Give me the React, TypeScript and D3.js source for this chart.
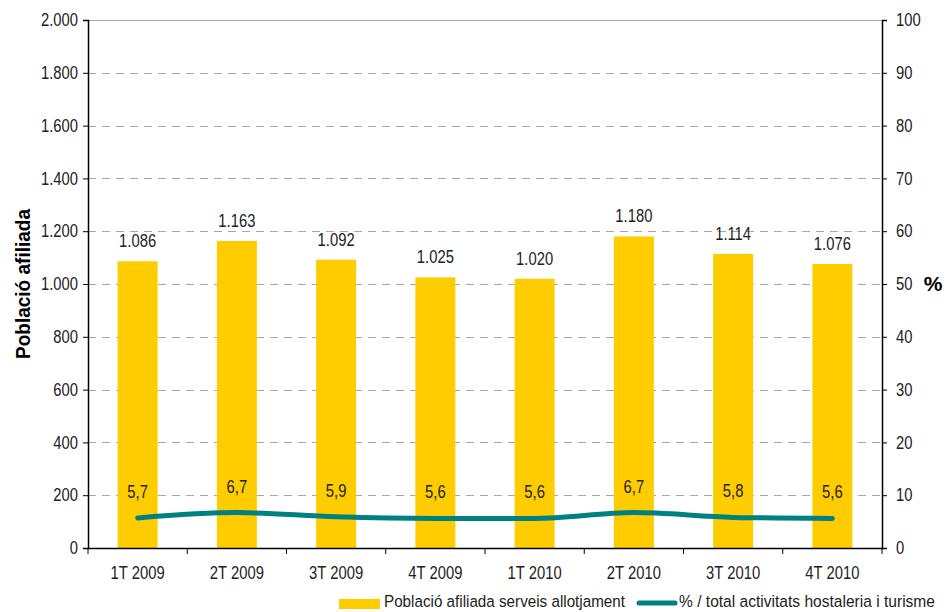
import * as d3 from "d3";
import { useEffect, useRef } from "react";

const categories = ["1T 2009", "2T 2009", "3T 2009", "4T 2009", "1T 2010", "2T 2010", "3T 2010", "4T 2010"];
const afiliats = [1086, 1163, 1092, 1025, 1020, 1180, 1114, 1076];
const percent = [5.7, 6.7, 5.9, 5.6, 5.6, 6.7, 5.8, 5.6];
const leftTicks = [0, 200, 400, 600, 800, 1000, 1200, 1400, 1600, 1800, 2000];
const rightTicks = [0, 10, 20, 30, 40, 50, 60, 70, 80, 90, 100];
const legendLabels = ["Població afiliada serveis allotjament", "% / total activitats hostaleria i turisme"];

const FONT = "'Liberation Sans Narrow', 'Arial Narrow', 'Liberation Sans', sans-serif";
const YELLOW = "#ffcc00";
const TEAL = "#008080";
const FS = 17.5;

export default function App() {
  const ref = useRef<SVGSVGElement | null>(null);

  useEffect(() => {
    const width = 949;
    const height = 612;
    const margin = { top: 20, right: 67, bottom: 64, left: 88 };

    const svg = d3.select(ref.current);
    svg.selectAll("*").remove();
    svg.attr("width", width).attr("height", height).style("font-family", FONT);

    const x = d3
      .scaleBand()
      .domain(categories)
      .range([margin.left, width - margin.right]);

    const y = d3
      .scaleLinear()
      .domain([0, 2000])
      .range([height - margin.bottom, margin.top]);

    const y2 = d3
      .scaleLinear()
      .domain([0, 100])
      .range([height - margin.bottom, margin.top]);

    const fmt = (d: number) => d3.format(",")(d).replace(",", ".");

    // gridlines
    svg
      .append("g")
      .selectAll("line")
      .data(leftTicks.filter((d) => d > 0))
      .join("line")
      .attr("x1", margin.left)
      .attr("x2", width - margin.right)
      .attr("y1", (d) => Math.round(y(d)) + 0.5)
      .attr("y2", (d) => Math.round(y(d)) + 0.5)
      .attr("stroke", "#a6a6a6")
      .attr("stroke-width", 1)
      .attr("stroke-dasharray", (d) => (d === 2000 ? null : "8,6"));

    // bars
    const barW = 40;
    svg
      .append("g")
      .selectAll("rect")
      .data(afiliats)
      .join("rect")
      .attr("x", (_, i) => x(categories[i])! + x.bandwidth() / 2 - barW / 2)
      .attr("y", (d) => y(d))
      .attr("width", barW)
      .attr("height", (d) => y(0) - y(d))
      .attr("fill", YELLOW);

    // bar labels
    svg
      .append("g")
      .selectAll("text")
      .data(afiliats)
      .join("text")
      .attr("x", (_, i) => x(categories[i])! + x.bandwidth() / 2)
      .attr("y", (d) => y(d) - 14)
      .attr("text-anchor", "middle")
      .attr("font-size", FS)
      .attr("fill", "#222")
      .attr("class", "narrow")
      .text((d) => fmt(d));

    // line
    const line = d3
      .line<number>()
      .x((_, i) => x(categories[i])! + x.bandwidth() / 2)
      .y((d) => y2(d))
      .curve(d3.curveMonotoneX);

    svg
      .append("path")
      .datum(percent)
      .attr("d", line)
      .attr("fill", "none")
      .attr("stroke", TEAL)
      .attr("stroke-width", 5)
      .attr("stroke-linecap", "round");

    svg
      .append("g")
      .selectAll("text")
      .data(percent)
      .join("text")
      .attr("x", (_, i) => x(categories[i])! + x.bandwidth() / 2)
      .attr("y", (d) => y2(d) - 20)
      .attr("text-anchor", "middle")
      .attr("font-size", FS)
      .attr("fill", "#222")
      .attr("class", "narrow")
      .text((d) => String(d).replace(".", ","));

    // left axis
    const gl = svg
      .append("g")
      .attr("transform", `translate(${margin.left},0)`)
      .call(
        d3
          .axisLeft(y)
          .tickValues(leftTicks)
          .tickSize(5)
          .tickPadding(5)
          .tickFormat((d) => fmt(d as number))
      );
    gl.select(".domain").attr("stroke", "#000").attr("stroke-width", 1.5);
    gl.selectAll("text").attr("font-size", FS).attr("fill", "#222").attr("class", "narrow").style("font-family", FONT);

    // right axis
    const gr = svg
      .append("g")
      .attr("transform", `translate(${width - margin.right},0)`)
      .call(d3.axisRight(y2).tickValues(rightTicks).tickSize(5).tickPadding(9));
    gr.select(".domain").attr("stroke", "#000").attr("stroke-width", 1.5);
    gr.selectAll("text").attr("font-size", FS).attr("fill", "#222").attr("class", "narrow").style("font-family", FONT);

    // bottom axis
    const gb = svg
      .append("g")
      .attr("transform", `translate(0,${height - margin.bottom})`)
      .call(d3.axisBottom(x).tickSize(0).tickPadding(19));
    gb.select(".domain").attr("stroke", "#000").attr("stroke-width", 1.5);
    gb.selectAll("text").attr("font-size", FS).attr("fill", "#222").attr("class", "narrow").style("font-family", FONT);
    gb.selectAll("line.sep")
      .data(d3.range(categories.length + 1))
      .join("line")
      .attr("class", "sep")
      .attr("x1", (i) => margin.left + i * x.step())
      .attr("x2", (i) => margin.left + i * x.step())
      .attr("y1", 0)
      .attr("y2", 6)
      .attr("stroke", "#000");

    // condense text to mimic a narrow face
    svg.selectAll<SVGTextElement, unknown>("text.narrow").each(function () {
      const len = this.getComputedTextLength();
      d3.select(this).attr("textLength", len * 0.845).attr("lengthAdjust", "spacingAndGlyphs");
    });

    // axis titles
    svg
      .append("text")
      .attr("transform", `translate(30,${(margin.top + height - margin.bottom) / 2}) rotate(-90)`)
      .attr("text-anchor", "middle")
      .attr("font-size", 21)
      .attr("font-weight", "bold")
      .attr("fill", "#000")
      .attr("textLength", 150)
      .attr("lengthAdjust", "spacingAndGlyphs")
      .text("Població afiliada");

    svg
      .append("text")
      .attr("x", 933)
      .attr("y", 291)
      .attr("text-anchor", "middle")
      .attr("font-size", 21)
      .attr("font-weight", "bold")
      .attr("fill", "#000")
      .text("%");

    // legend (text drawn at 15px and stretched vertically to look like a taller narrow face)
    const lg = svg.append("g");
    lg.append("rect").attr("x", 339).attr("y", 599).attr("width", 41).attr("height", 10).attr("fill", YELLOW);
    lg.append("text")
      .attr("transform", "translate(384,607) scale(1,1.15)")
      .attr("font-size", 15)
      .attr("fill", "#222")
      .attr("textLength", 241)
      .attr("lengthAdjust", "spacingAndGlyphs")
      .text(legendLabels[0]);
    lg.append("line")
      .attr("x1", 639)
      .attr("x2", 675)
      .attr("y1", 603)
      .attr("y2", 603)
      .attr("stroke", TEAL)
      .attr("stroke-width", 5)
      .attr("stroke-linecap", "round");
    lg.append("text")
      .attr("transform", "translate(679,607) scale(1,1.15)")
      .attr("font-size", 15)
      .attr("fill", "#222")
      .attr("textLength", 256)
      .attr("lengthAdjust", "spacingAndGlyphs")
      .text(legendLabels[1]);
  }, []);

  return (
    <div style={{ position: "absolute", left: 0, top: 0 }}>
      <svg ref={ref} />
    </div>
  );
}
